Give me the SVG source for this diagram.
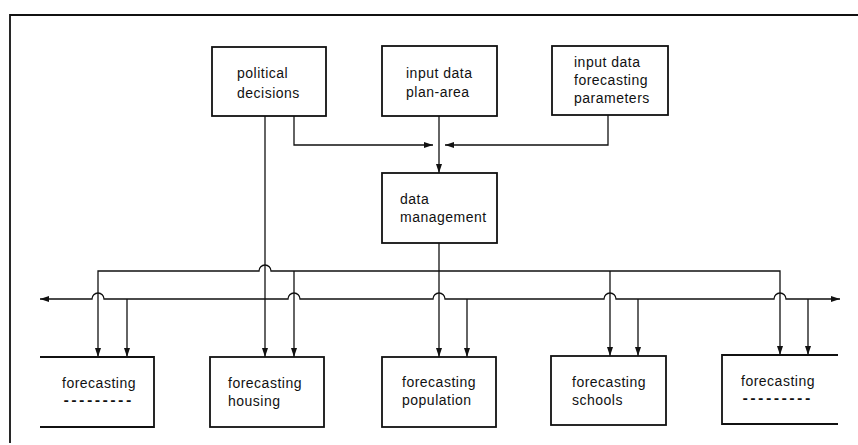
<svg xmlns="http://www.w3.org/2000/svg" width="858" height="445" viewBox="0 0 858 445">
<style>
.box{fill:none;stroke:#111;stroke-width:1.8}
.ln{fill:none;stroke:#111;stroke-width:1.3}
.arr{marker-end:url(#ah)}
text{font-family:"Liberation Sans",Arial,sans-serif;font-size:14px;letter-spacing:0.5px;fill:#111}
.dash{font-family:"Liberation Mono","Courier New",monospace;letter-spacing:-0.6px;font-weight:bold}
</style>
<defs>
<marker id="ah" markerUnits="userSpaceOnUse" markerWidth="10" markerHeight="8" refX="9" refY="3" orient="auto-start-reverse">
<path d="M0,0 L9,3 L0,6 z" fill="#111"/>
</marker>
</defs>
<rect width="858" height="445" fill="#fff"/>
<g id="frame">
<path class="box" d="M10,443 V15 H858"/>
</g>
<g id="connectors">
<line class="ln arr" x1="265" y1="116" x2="265" y2="357"/>
<path class="ln arr" d="M294,116 V145 H433"/>
<path class="ln arr" d="M608,115 V145 H445"/>
<line class="ln arr" x1="439" y1="116" x2="439" y2="173"/>
<line class="ln arr" x1="439" y1="243" x2="439" y2="357"/>
<path class="ln" d="M98,299 V271 H259 a6,6 0 0 1 12,0 H780 V299"/>
<line class="ln arr" x1="98" y1="299" x2="98" y2="357"/>
<line class="ln arr" x1="294" y1="271" x2="294" y2="357"/>
<line class="ln arr" x1="610" y1="271" x2="610" y2="356"/>
<line class="ln arr" x1="780" y1="299" x2="780" y2="355"/>
<path class="ln" d="M40,299 H92 a6,6 0 0 1 12,0 H288 a6,6 0 0 1 12,0 H433 a6,6 0 0 1 12,0 H604 a6,6 0 0 1 12,0 H774 a6,6 0 0 1 12,0 H840" marker-start="url(#ah)" marker-end="url(#ah)"/>
<line class="ln arr" x1="127" y1="299" x2="127" y2="357"/>
<line class="ln arr" x1="467" y1="299" x2="467" y2="357"/>
<line class="ln arr" x1="638" y1="299" x2="638" y2="356"/>
<line class="ln arr" x1="808" y1="299" x2="808" y2="355"/>
</g>
<g id="political">
<rect class="box" x="212" y="47" width="114" height="69"/>
<text x="237" y="78">political</text>
<text x="237" y="98">decisions</text>
</g>
<g id="plan-area">
<rect class="box" x="382" y="46" width="115" height="70"/>
<text x="406" y="78">input data</text>
<text x="406" y="97">plan-area</text>
</g>
<g id="parameters">
<rect class="box" x="552" y="46" width="116" height="69"/>
<text x="574" y="67">input data</text>
<text x="574" y="85">forecasting</text>
<text x="574" y="103">parameters</text>
</g>
<g id="data-management">
<rect class="box" x="382" y="173" width="115" height="70"/>
<text x="400" y="204">data</text>
<text x="400" y="222">management</text>
</g>
<g id="forecasting-left">
<path class="box" d="M40,357 H154 V427 H40"/>
<text x="62" y="388">forecasting</text>
<text class="dash" x="62" y="405">---------</text>
</g>
<g id="forecasting-housing">
<rect class="box" x="210" y="357" width="114" height="70"/>
<text x="228" y="388">forecasting</text>
<text x="228" y="406">housing</text>
</g>
<g id="forecasting-population">
<rect class="box" x="382" y="357" width="114" height="70"/>
<text x="402" y="387">forecasting</text>
<text x="402" y="405">population</text>
</g>
<g id="forecasting-schools">
<rect class="box" x="551" y="356" width="115" height="69"/>
<text x="572" y="387">forecasting</text>
<text x="572" y="405">schools</text>
</g>
<g id="forecasting-right">
<path class="box" d="M838,355 H722 V424 H838"/>
<text x="741" y="386">forecasting</text>
<text class="dash" x="741" y="403">---------</text>
</g>
</svg>
